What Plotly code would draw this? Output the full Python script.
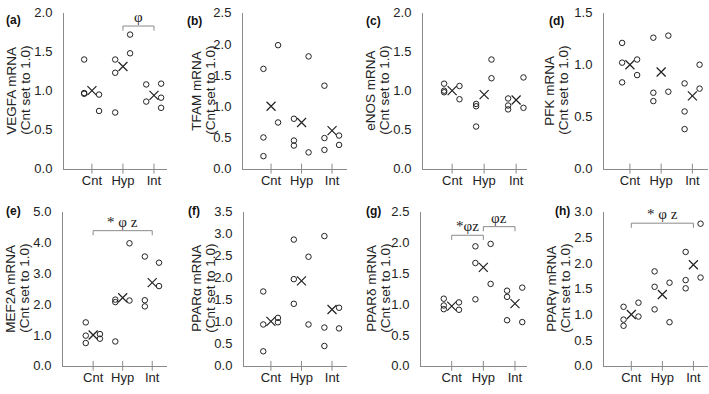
import plotly.graph_objects as go

groups = ["Cnt", "Hyp", "Int"]
panel_labels = ["(a)", "(b)", "(c)", "(d)", "(e)", "(f)", "(g)", "(h)"]
genes = ["VEGFA", "TFAM", "eNOS", "PFK", "MEF2A", "PPARα", "PPARδ", "PPARγ"]

# values per group: left column of circles, right column of circles, group mean (x)
vegfa_left = [[1.40, 0.96, 0.97], [1.40, 1.23, 0.72], [1.08, 0.86]]
vegfa_right = [[0.95, 0.74], [1.72, 1.48], [1.09, 0.91, 0.78]]
vegfa_mean = [1.00, 1.31, 0.94]

tfam_left = [[1.60, 0.50, 0.20], [0.80, 0.45, 0.37], [1.33, 0.49, 0.30]]
tfam_right = [[1.98, 0.74], [1.80, 0.26], [0.53, 0.38]]
tfam_mean = [1.00, 0.74, 0.61]

enos_left = [[1.09, 1.00, 0.98], [0.83, 0.80, 0.54], [0.90, 0.81, 0.76]]
enos_right = [[1.06, 0.89], [1.40, 1.16], [1.17, 0.78]]
enos_mean = [1.00, 0.95, 0.88]

pfk_left = [[1.21, 1.02, 0.83], [1.26, 0.73, 0.65], [0.82, 0.55, 0.38]]
pfk_right = [[1.05, 0.90], [1.28, 0.74], [1.00, 0.77]]
pfk_mean = [1.00, 0.93, 0.70]

mef2a_left = [[1.41, 0.98, 0.74], [2.15, 2.07, 0.79], [3.55, 2.13, 1.93]]
mef2a_right = [[1.03, 0.88], [3.98, 2.12], [3.35, 2.59]]
mef2a_mean = [1.00, 2.21, 2.70]

ppara_left = [[1.69, 0.94, 0.33], [2.87, 1.97, 1.41], [2.95, 0.87, 0.45]]
ppara_right = [[1.09, 0.99], [2.48, 0.94], [1.32, 0.85]]
ppara_mean = [1.01, 1.93, 1.28]

ppard_left = [[1.09, 0.98, 0.92], [1.94, 1.67, 1.08], [1.22, 1.12, 0.74]]
ppard_right = [[1.03, 0.91], [1.98, 1.33], [1.27, 0.71]]
ppard_mean = [0.97, 1.60, 1.01]

pparg_left = [[1.15, 0.90, 0.78], [1.84, 1.54, 1.10], [2.22, 1.67, 1.51]]
pparg_right = [[1.23, 0.96], [1.62, 0.85], [2.77, 1.72]]
pparg_mean = [1.00, 1.39, 1.97]

left_vals = [vegfa_left, tfam_left, enos_left, pfk_left, mef2a_left, ppara_left, ppard_left, pparg_left]
right_vals = [vegfa_right, tfam_right, enos_right, pfk_right, mef2a_right, ppara_right, ppard_right, pparg_right]
mean_vals = [vegfa_mean, tfam_mean, enos_mean, pfk_mean, mef2a_mean, ppara_mean, ppard_mean, pparg_mean]

y_max = [2.0, 2.5, 2.0, 1.5, 5.0, 3.5, 2.5, 3.0]
y_step = [0.5, 0.5, 0.5, 0.5, 1.0, 0.5, 0.5, 0.5]

# significance brackets: (panel, from group, to group, level, label)
brackets = [
    (0, 1, 2, 1.83, "φ"),
    (4, 0, 2, 4.39, "* φ z"),
    (6, 0, 1, 2.12, "*φz"),
    (6, 1, 2, 2.26, "φz"),
    (7, 0, 2, 2.78, "* φ z"),
]

W, H = 709, 394
FONT = "Liberation Sans"
INK = "#222222"
AXC = "#8a8a8a"

# pixel geometry of each plot area: (left, right, top, bottom)
boxes = [
    (64, 167, 6, 168), (243, 347, 6, 168), (423, 527, 6, 168), (604, 708, 6, 168),
    (63, 167, 213, 373), (244, 347, 213, 373), (421, 527, 213, 373), (604, 708, 213, 373),
]
x_ranges = [
    (0.10, 3.42), (0.08, 3.49), (0.09, 3.34), (0.17, 3.50),
    (-0.02, 3.50), (0.12, 3.49), (0.03, 3.38), (0.12, 3.47),
]
title_x = [19, 204, 378, 557, 18, 204, 379, 559]
label_pos = [(13, 13), (194, 15), (374, 15), (556, 15), (13, 212), (194, 212), (374, 212), (562, 212)]

L_OFF, R_OFF = -0.25, 0.23

fig = go.Figure()
shapes = []
annotations = []

for i in range(8):
    ax = "" if i == 0 else str(i + 1)
    xa, ya = "x" + ax, "y" + ax
    l, r, t, b = boxes[i]

    lx, ly, rx, ry = [], [], [], []
    for g in range(3):
        for v in left_vals[i][g]:
            lx.append(g + 1 + L_OFF)
            ly.append(v)
        for v in right_vals[i][g]:
            rx.append(g + 1 + R_OFF)
            ry.append(v)
    circ = dict(symbol="circle-open", size=5.5, color=INK, line=dict(width=1, color=INK))
    fig.add_trace(go.Scatter(x=lx + rx, y=ly + ry, mode="markers", marker=circ,
                             xaxis=xa, yaxis=ya, showlegend=False, cliponaxis=False))
    fig.add_trace(go.Scatter(x=[1, 2, 3], y=mean_vals[i], mode="markers",
                             marker=dict(symbol="x-thin-open", size=9, color=INK,
                                         line=dict(width=1.2, color=INK)),
                             xaxis=xa, yaxis=ya, showlegend=False))

    n = int(round(y_max[i] / y_step[i]))
    tv = [k * y_step[i] for k in range(n + 1)]
    fig.layout["xaxis" + ax] = dict(
        domain=[l / W, r / W], range=list(x_ranges[i]), anchor=ya,
        tickvals=[1, 2, 3], ticktext=groups, ticks="",
        showline=True, linecolor=AXC, linewidth=1,
        showgrid=False, zeroline=False, fixedrange=True,
        tickfont=dict(family=FONT, size=13, color=INK))
    fig.layout["yaxis" + ax] = dict(
        domain=[1 - b / H, 1 - t / H], range=[0, y_max[i]], anchor=xa,
        tickvals=tv, ticktext=["%.1f" % v for v in tv], ticks="outside", ticklen=8,
        tickcolor="rgba(0,0,0,0)", showline=True, linecolor=AXC, linewidth=1,
        showgrid=False, zeroline=False, fixedrange=True,
        tickfont=dict(family=FONT, size=13, color=INK))

    # x ticks crossing the axis line
    for g in range(3):
        shapes.append(dict(type="line", xref=xa, yref=ya + " domain", x0=g + 1, x1=g + 1,
                           y0=-0.032, y1=0.032, line=dict(color=AXC, width=1)))

    yc = 1 - (t + b) / 2 / H
    for k, line in enumerate([genes[i] + " mRNA", "(Cnt set to 1.0)"]):
        annotations.append(dict(text=line, textangle=-90, xref="paper", yref="paper",
                                x=(title_x[i] + (k - 0.5) * 14) / W, y=yc,
                                xanchor="center", yanchor="middle", showarrow=False,
                                font=dict(family=FONT, size=13.5, color=INK)))
    px_, py_ = label_pos[i]
    annotations.append(dict(text="<b>" + panel_labels[i] + "</b>", xref="paper", yref="paper",
                            x=px_ / W, y=1 - py_ / H, xanchor="center", yanchor="middle",
                            showarrow=False, font=dict(family=FONT, size=12, color="#111")))

for p, g0, g1, lev, lab in brackets:
    ax = "" if p == 0 else str(p + 1)
    xa, ya = "x" + ax, "y" + ax
    d = 0.03 * y_max[p]
    fig.add_trace(go.Scatter(x=[g0 + 1, g0 + 1, g1 + 1, g1 + 1], y=[lev - d, lev, lev, lev - d],
                             mode="lines", line=dict(color=AXC, width=1),
                             xaxis=xa, yaxis=ya, showlegend=False, cliponaxis=False))
    annotations.append(dict(text=lab, xref=xa, yref=ya, x=(g0 + g1) / 2 + 1, y=lev,
                            xanchor="center", yanchor="bottom", yshift=-1, showarrow=False,
                            font=dict(family="Liberation Serif", size=15, color=INK)))

fig.update_layout(width=W, height=H, margin=dict(l=0, r=0, t=0, b=0),
                  plot_bgcolor="white", paper_bgcolor="white",
                  shapes=shapes, annotations=annotations)

# the page's default body margin would push the chart 8px right and down
fig.write_html("out.html", config={"displayModeBar": False},
               post_script="document.body.style.margin='0';")
